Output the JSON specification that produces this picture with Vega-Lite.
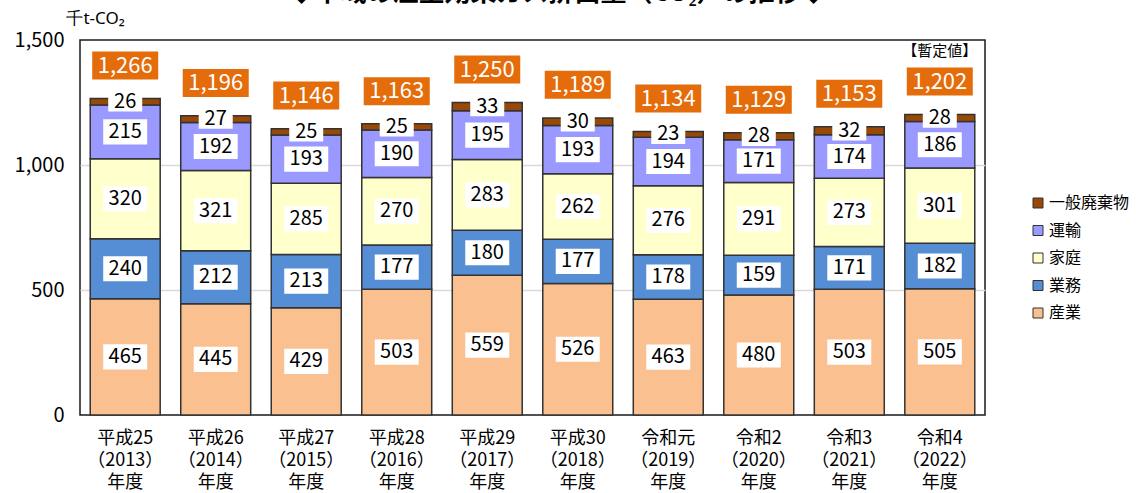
{
  "$schema": "https://vega.github.io/schema/vega-lite/v6.json",
  "autosize": {"type": "none"},
  "width": 905,
  "height": 375,
  "padding": {"left": 80, "top": 40, "right": 151, "bottom": 78},
  "background": "white",
  "config": {
    "font": "Noto Sans CJK JP",
    "view": {"stroke": "#1a1a1a", "strokeWidth": 1.5},
    "title": {"font": "Noto Sans CJK JP"}
  },
  "title": {
    "text": "◆市域の温室効果ガス排出量（CO₂）の推移◆",
    "fontSize": 26,
    "fontWeight": "bold",
    "color": "#000",
    "anchor": "middle",
    "frame": "group",
    "baseline": "alphabetic",
    "offset": 0,
    "dx": 25,
    "dy": 18
  },
  "datasets": {
    "seg": [
      {"year": "平成25|（2013）|年度", "cat": "産業", "v": 465},
      {"year": "平成25|（2013）|年度", "cat": "業務", "v": 240},
      {"year": "平成25|（2013）|年度", "cat": "家庭", "v": 320},
      {"year": "平成25|（2013）|年度", "cat": "運輸", "v": 215},
      {"year": "平成25|（2013）|年度", "cat": "一般廃棄物", "v": 26},
      {"year": "平成26|（2014）|年度", "cat": "産業", "v": 445},
      {"year": "平成26|（2014）|年度", "cat": "業務", "v": 212},
      {"year": "平成26|（2014）|年度", "cat": "家庭", "v": 321},
      {"year": "平成26|（2014）|年度", "cat": "運輸", "v": 192},
      {"year": "平成26|（2014）|年度", "cat": "一般廃棄物", "v": 27},
      {"year": "平成27|（2015）|年度", "cat": "産業", "v": 429},
      {"year": "平成27|（2015）|年度", "cat": "業務", "v": 213},
      {"year": "平成27|（2015）|年度", "cat": "家庭", "v": 285},
      {"year": "平成27|（2015）|年度", "cat": "運輸", "v": 193},
      {"year": "平成27|（2015）|年度", "cat": "一般廃棄物", "v": 25},
      {"year": "平成28|（2016）|年度", "cat": "産業", "v": 503},
      {"year": "平成28|（2016）|年度", "cat": "業務", "v": 177},
      {"year": "平成28|（2016）|年度", "cat": "家庭", "v": 270},
      {"year": "平成28|（2016）|年度", "cat": "運輸", "v": 190},
      {"year": "平成28|（2016）|年度", "cat": "一般廃棄物", "v": 25},
      {"year": "平成29|（2017）|年度", "cat": "産業", "v": 559},
      {"year": "平成29|（2017）|年度", "cat": "業務", "v": 180},
      {"year": "平成29|（2017）|年度", "cat": "家庭", "v": 283},
      {"year": "平成29|（2017）|年度", "cat": "運輸", "v": 195},
      {"year": "平成29|（2017）|年度", "cat": "一般廃棄物", "v": 33},
      {"year": "平成30|（2018）|年度", "cat": "産業", "v": 526},
      {"year": "平成30|（2018）|年度", "cat": "業務", "v": 177},
      {"year": "平成30|（2018）|年度", "cat": "家庭", "v": 262},
      {"year": "平成30|（2018）|年度", "cat": "運輸", "v": 193},
      {"year": "平成30|（2018）|年度", "cat": "一般廃棄物", "v": 30},
      {"year": "令和元|（2019）|年度", "cat": "産業", "v": 463},
      {"year": "令和元|（2019）|年度", "cat": "業務", "v": 178},
      {"year": "令和元|（2019）|年度", "cat": "家庭", "v": 276},
      {"year": "令和元|（2019）|年度", "cat": "運輸", "v": 194},
      {"year": "令和元|（2019）|年度", "cat": "一般廃棄物", "v": 23},
      {"year": "令和2|（2020）|年度", "cat": "産業", "v": 480},
      {"year": "令和2|（2020）|年度", "cat": "業務", "v": 159},
      {"year": "令和2|（2020）|年度", "cat": "家庭", "v": 291},
      {"year": "令和2|（2020）|年度", "cat": "運輸", "v": 171},
      {"year": "令和2|（2020）|年度", "cat": "一般廃棄物", "v": 28},
      {"year": "令和3|（2021）|年度", "cat": "産業", "v": 503},
      {"year": "令和3|（2021）|年度", "cat": "業務", "v": 171},
      {"year": "令和3|（2021）|年度", "cat": "家庭", "v": 273},
      {"year": "令和3|（2021）|年度", "cat": "運輸", "v": 174},
      {"year": "令和3|（2021）|年度", "cat": "一般廃棄物", "v": 32},
      {"year": "令和4|（2022）|年度", "cat": "産業", "v": 505},
      {"year": "令和4|（2022）|年度", "cat": "業務", "v": 182},
      {"year": "令和4|（2022）|年度", "cat": "家庭", "v": 301},
      {"year": "令和4|（2022）|年度", "cat": "運輸", "v": 186},
      {"year": "令和4|（2022）|年度", "cat": "一般廃棄物", "v": 28}
    ],
    "tot": [
      {"year": "平成25|（2013）|年度", "total": 1266},
      {"year": "平成26|（2014）|年度", "total": 1196},
      {"year": "平成27|（2015）|年度", "total": 1146},
      {"year": "平成28|（2016）|年度", "total": 1163},
      {"year": "平成29|（2017）|年度", "total": 1250},
      {"year": "平成30|（2018）|年度", "total": 1189},
      {"year": "令和元|（2019）|年度", "total": 1134},
      {"year": "令和2|（2020）|年度", "total": 1129},
      {"year": "令和3|（2021）|年度", "total": 1153},
      {"year": "令和4|（2022）|年度", "total": 1202}
    ]
  },
  "encoding": {
    "x": {
      "field": "year",
      "type": "nominal",
      "sort": null,
      "scale": {"paddingInner": 0.227, "paddingOuter": 0.113},
      "axis": {
        "title": null,
        "labelAngle": 0,
        "labelExpr": "split(datum.label, '|')",
        "labelFontSize": 18,
        "labelLineHeight": 22,
        "labelPadding": 14,
        "labelBaseline": "top",
        "labelColor": "#000",
        "ticks": false,
        "domain": false
      }
    }
  },
  "layer": [
    {
      "data": {"name": "seg"},
      "transform": [
        {"calculate": "indexof(['産業','業務','家庭','運輸','一般廃棄物'], datum.cat)", "as": "k"},
        {"stack": "v", "groupby": ["year"], "sort": [{"field": "k"}], "as": ["y0", "y1"]}
      ],
      "mark": {"type": "bar", "stroke": "#333", "strokeWidth": 1.5},
      "encoding": {
        "y": {
          "field": "y0",
          "type": "quantitative",
          "scale": {"domain": [0, 1500], "nice": false},
          "axis": {
            "values": [0, 500, 1000, 1500],
            "labelExpr": "format(datum.value, ',.0f')",
            "grid": true,
            "gridColor": {"condition": {"test": "datum.value == 500 || datum.value == 1000", "value": "#D9D9D9"}, "value": "transparent"},
            "gridWidth": 1.5,
            "domain": false,
            "ticks": false,
            "labelFontSize": 20,
            "labelPadding": 16,
            "labelColor": "#000",
            "title": "千t-CO₂",
            "titleFont": "Noto Sans",
            "titleAngle": 0,
            "titleX": 15,
            "titleY": -22,
            "titleAlign": "center",
            "titleBaseline": "middle",
            "titleFontSize": 17,
            "titleFontWeight": "normal",
            "titleColor": "#000"
          }
        },
        "y2": {"field": "y1"},
        "color": {
          "field": "cat",
          "type": "nominal",
          "scale": {
            "domain": ["一般廃棄物", "運輸", "家庭", "業務", "産業"],
            "range": ["#984807", "#9999FF", "#FFFFCC", "#558ED5", "#FAC090"]
          },
          "legend": {
            "title": null,
            "orient": "none",
            "legendX": 950,
            "legendY": 155,
            "symbolType": "square",
            "symbolSize": 100,
            "symbolStrokeColor": "#333",
            "symbolStrokeWidth": 1,
            "labelFontSize": 16,
            "labelColor": "#000",
            "labelOffset": 3,
            "rowPadding": 11.5
          }
        }
      }
    },
    {
      "data": {"name": "seg"},
      "transform": [
        {"calculate": "indexof(['産業','業務','家庭','運輸','一般廃棄物'], datum.cat)", "as": "k"},
        {"stack": "v", "groupby": ["year"], "sort": [{"field": "k"}], "as": ["y0", "y1"]},
        {"calculate": "(datum.y0 + datum.y1) / 2", "as": "mid"},
        {"filter": "datum.cat != '一般廃棄物'"}
      ],
      "mark": {"type": "point", "shape": "M-1,-0.57H1V0.57H-1Z", "filled": true, "color": "white", "opacity": 1, "size": 1936},
      "encoding": {"y": {"field": "mid", "type": "quantitative"}}
    },
    {
      "data": {"name": "seg"},
      "transform": [
        {"calculate": "indexof(['産業','業務','家庭','運輸','一般廃棄物'], datum.cat)", "as": "k"},
        {"stack": "v", "groupby": ["year"], "sort": [{"field": "k"}], "as": ["y0", "y1"]},
        {"calculate": "(datum.y0 + datum.y1) / 2", "as": "mid"},
        {"filter": "datum.cat == '一般廃棄物'"}
      ],
      "mark": {"type": "point", "shape": "M-1,-0.57H1V0.57H-1Z", "filled": true, "color": "white", "opacity": 1, "size": 1156},
      "encoding": {"y": {"field": "mid", "type": "quantitative"}}
    },
    {
      "data": {"name": "seg"},
      "transform": [
        {"calculate": "indexof(['産業','業務','家庭','運輸','一般廃棄物'], datum.cat)", "as": "k"},
        {"stack": "v", "groupby": ["year"], "sort": [{"field": "k"}], "as": ["y0", "y1"]},
        {"calculate": "(datum.y0 + datum.y1) / 2", "as": "mid"}
      ],
      "mark": {"type": "text", "fontSize": 20, "color": "#000", "baseline": "middle", "align": "center"},
      "encoding": {
        "y": {"field": "mid", "type": "quantitative"},
        "text": {"field": "v", "type": "quantitative"}
      }
    },
    {
      "data": {"name": "tot"},
      "mark": {"type": "point", "shape": "M-1,-0.424H1V0.424H-1Z", "filled": true, "color": "#E46C0A", "opacity": 1, "size": 4356, "yOffset": -33},
      "encoding": {"y": {"field": "total", "type": "quantitative"}}
    },
    {
      "data": {"name": "tot"},
      "mark": {"type": "text", "fontSize": 22, "color": "white", "baseline": "middle", "align": "center", "yOffset": -33},
      "encoding": {
        "y": {"field": "total", "type": "quantitative"},
        "text": {"field": "total", "type": "quantitative", "format": ",.0f"}
      }
    },
    {
      "data": {"values": [{"note": "【暫定値】"}]},
      "mark": {"type": "text", "fontSize": 15, "color": "#000", "baseline": "middle", "align": "center", "yOffset": 11},
      "encoding": {
        "x": {"datum": "令和4|（2022）|年度"},
        "y": {"datum": 1500},
        "text": {"field": "note"}
      }
    }
  ]
}
